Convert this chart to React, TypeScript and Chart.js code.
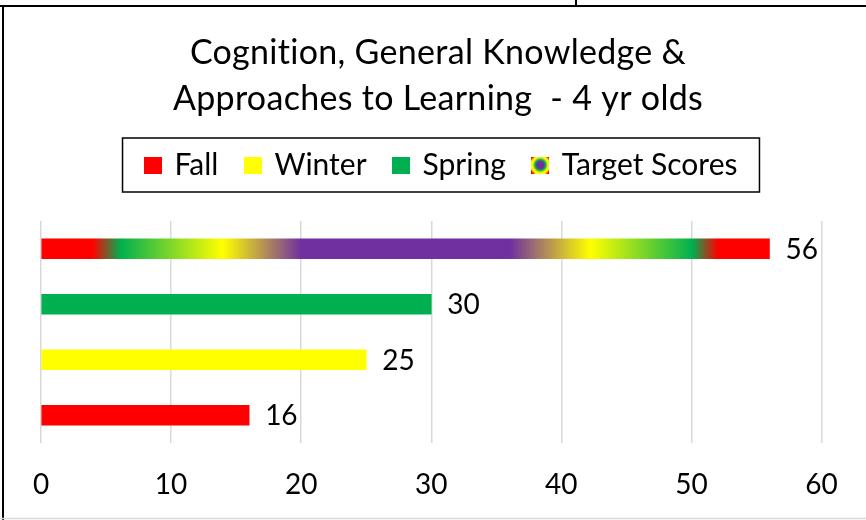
import React, { useEffect, useRef } from 'react';
import { Chart, registerables } from 'chart.js';

Chart.register(...registerables);

// ---- data ----
const categories = ['Target Scores', 'Spring', 'Winter', 'Fall'];
const seriesNames = ['Fall', 'Winter', 'Spring', 'Target Scores'];
const seriesValues = [16, 25, 30, 56];
const xTickValues = [0, 10, 20, 30, 40, 50, 60];
const titleLines = ['Cognition, General Knowledge &', 'Approaches to Learning  - 4 yr olds'];

// ---- styles ----
const RED = '#FF0000';
const YELLOW = '#FFFF00';
const GREEN = '#00B050';
const PURPLE = '#7030A0';
const seriesColors: Record<string, string> = { Fall: RED, Winter: YELLOW, Spring: GREEN };
const targetStops: [number, string][] = [
  [0, RED], [0.071, RED], [0.109, GREEN], [0.249, YELLOW], [0.357, PURPLE],
  [0.644, PURPLE], [0.754, YELLOW], [0.894, GREEN], [0.929, RED], [1, RED],
];
const FONT = 'Lato, "Open Sans", sans-serif';
const SW = 18;
const SH = 17;
const LEGEND_SHIFT = 4;

function makeSwatch(color: string | null): HTMLCanvasElement {
  const c = document.createElement('canvas');
  c.width = SW;
  c.height = SH;
  const g = c.getContext('2d')!;
  if (color) {
    g.fillStyle = color;
  } else {
    const cx = SW / 2, cy = SH / 2;
    const grad = g.createRadialGradient(cx, cy, 0, cx, cy, cx * Math.SQRT2);
    grad.addColorStop(0, PURPLE);
    grad.addColorStop(0.28, PURPLE);
    grad.addColorStop(0.42, GREEN);
    grad.addColorStop(0.6, YELLOW);
    grad.addColorStop(0.72, YELLOW);
    grad.addColorStop(0.85, RED);
    grad.addColorStop(1, RED);
    g.fillStyle = grad;
  }
  g.fillRect(0, 0, SW, SH);
  return c;
}

const framePlugin = {
  id: 'frame',
  afterUpdate(chart: any) {
    const lg = chart.legend;
    if (lg) {
      lg.left += LEGEND_SHIFT;
      lg.right += LEGEND_SHIFT;
      (lg.legendHitBoxes || []).forEach((h: any) => {
        h.left += LEGEND_SHIFT;
      });
    }
  },
  beforeDraw(chart: any) {
    const tb = chart.titleBlock;
    if (tb && !tb.__patched) {
      const orig = tb.draw.bind(tb);
      tb.draw = (...args: any[]) => {
        const c = chart.ctx;
        c.save();
        c.letterSpacing = '0.3px';
        orig(...args);
        c.restore();
      };
      tb.__patched = true;
    }
  },
  afterDraw(chart: any) {
    const ctx = chart.ctx;
    const W = chart.width;
    ctx.save();
    ctx.strokeStyle = '#000';
    ctx.lineWidth = 2;
    ctx.beginPath();
    ctx.moveTo(0, 6);
    ctx.lineTo(W, 6);
    ctx.moveTo(576, 0);
    ctx.lineTo(576, 6);
    ctx.moveTo(3, 6);
    ctx.lineTo(3, 520);
    ctx.stroke();
    ctx.strokeStyle = '#d9d9d9';
    ctx.lineWidth = 1.5;
    ctx.beginPath();
    ctx.moveTo(0, 518.5);
    ctx.lineTo(W, 518.5);
    ctx.stroke();

    // legend border
    const lg = chart.legend;
    if (lg && lg.legendHitBoxes && lg.legendHitBoxes.length) {
      const hb = lg.legendHitBoxes;
      let l = Infinity, r = -Infinity, t = Infinity, b = -Infinity;
      hb.forEach((h: any) => {
        l = Math.min(l, h.left);
        r = Math.max(r, h.left + h.width);
        t = Math.min(t, h.top);
        b = Math.max(b, h.top + h.height);
      });
      ctx.strokeStyle = '#000';
      ctx.lineWidth = 1.5;
      ctx.strokeRect(l - 24, t - 12, r - l + 46, b - t + 24);
    }
    ctx.restore();
  },
};

const labelPlugin = {
  id: 'valueLabels',
  afterDatasetsDraw(chart: any) {
    const ctx = chart.ctx;
    ctx.save();
    ctx.font = `28px ${FONT}`;
    ctx.fillStyle = '#000';
    ctx.textAlign = 'left';
    ctx.textBaseline = 'middle';
    chart.data.datasets.forEach((ds: any, di: number) => {
      const meta = chart.getDatasetMeta(di);
      meta.data.forEach((el: any, i: number) => {
        const v = ds.data[i];
        if (v === null || v === undefined) return;
        ctx.fillText(String(v), el.x + 16, el.y + 1);
      });
    });
    ctx.restore();
  },
};

export default function App() {
  const ref = useRef<HTMLCanvasElement>(null);

  useEffect(() => {
    const canvas = ref.current!;
    const swatches: Record<string, HTMLCanvasElement> = {};
    seriesNames.forEach((n) => {
      swatches[n] = makeSwatch(seriesColors[n] || null);
    });

    const datasets = seriesNames.map((name, si) => {
      const data = categories.map((c) => (c === name ? seriesValues[si] : null));
      const isTarget = name === 'Target Scores';
      return {
        label: name,
        data,
        xAxisID: 'x',
        yAxisID: 'y',
        barThickness: 20,
        grouped: false,
        borderWidth: 0,
        backgroundColor: isTarget
          ? (ctx: any) => {
              const chart = ctx.chart;
              const xs = chart.scales && chart.scales.x;
              if (!xs || typeof ctx.raw !== 'number') return PURPLE;
              const x0 = xs.getPixelForValue(0);
              const x1 = xs.getPixelForValue(ctx.raw);
              if (!isFinite(x0) || !isFinite(x1) || x1 === x0) return PURPLE;
              const g = chart.ctx.createLinearGradient(x0, 0, x1, 0);
              targetStops.forEach(([p, c]) => g.addColorStop(p, c));
              return g;
            }
          : seriesColors[name],
      };
    });

    const chart = new Chart(canvas, {
      type: 'bar',
      data: { labels: categories, datasets: datasets as any },
      options: {
        indexAxis: 'y',
        responsive: false,
        animation: false,
        devicePixelRatio: 1,
        layout: { padding: { left: 10, right: 0, top: 0, bottom: 0 } },
        font: { family: FONT },
        scales: {
          x: {
            type: 'linear',
            position: 'bottom',
            min: 0,
            max: 60,
            afterBuildTicks: (s: any) => {
              s.ticks = xTickValues.map((v) => ({ value: v }));
            },
            afterFit: (s: any) => {
              s.height = 77;
            },
            grid: { color: '#d9d9d9', lineWidth: 1.5, drawTicks: false },
            border: { display: false },
            ticks: { color: '#000', font: { size: 28, family: FONT }, padding: 25.5, maxRotation: 0 },
          },
          y: {
            type: 'category',
            position: 'left',
            grid: { display: false },
            border: { display: false },
            ticks: { display: false },
            afterFit: (s: any) => {
              s.width = 31;
            },
          },
          yR: {
            type: 'linear',
            axis: 'y',
            position: 'right',
            grid: { display: false },
            border: { display: false },
            ticks: { display: false },
            afterFit: (s: any) => {
              s.width = 44.5;
            },
          },
          xT: {
            type: 'linear',
            axis: 'x',
            position: 'top',
            grid: { display: false },
            border: { display: false },
            ticks: { display: false },
            afterFit: (s: any) => {
              s.height = 31;
            },
          },
        } as any,
        plugins: {
          title: {
            display: true,
            text: titleLines,
            color: '#000',
            font: { size: 34, family: FONT, weight: 'normal', lineHeight: 46 / 34 },
            padding: { top: 30, bottom: 0 },
          },
          legend: {
            display: true,
            position: 'top',
            labels: {
              color: '#000',
              font: { size: 30, family: FONT },
              usePointStyle: true,
              pointStyleWidth: 13,
              boxHeight: SH,
              padding: 28,
              generateLabels: (ch: any) => {
                const base = Chart.defaults.plugins.legend.labels.generateLabels(ch);
                return base.map((item: any, i: number) => {
                  const name = seriesNames[i];
                  return {
                    ...item,
                    fillStyle: seriesColors[name] || PURPLE,
                    strokeStyle: 'rgba(0,0,0,0)',
                    lineWidth: 0,
                    pointStyle: swatches[name],
                  };
                });
              },
            },
          },
          tooltip: { enabled: false },
        },
      },
      plugins: [framePlugin, labelPlugin],
    });

    return () => chart.destroy();
  }, []);

  return (
    <div style={{ position: 'fixed', left: 0, top: 0, width: 866, height: 520, background: '#fff' }}>
      <canvas ref={ref} width={866} height={520} style={{ display: 'block' }} />
    </div>
  );
}
